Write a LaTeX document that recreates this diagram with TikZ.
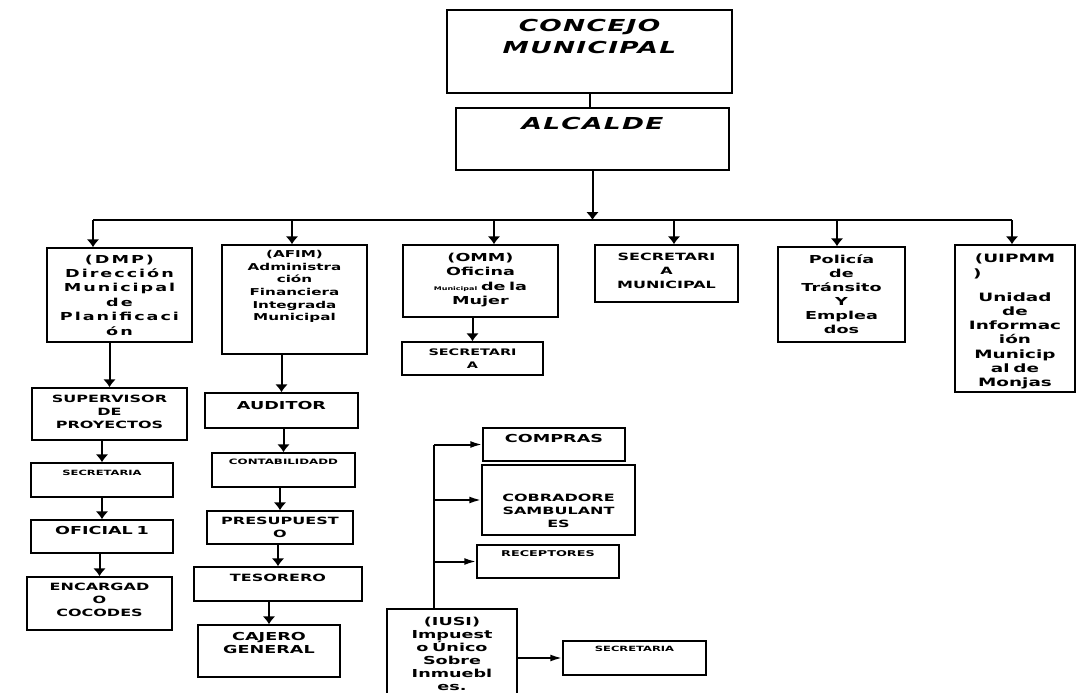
\documentclass[tikz,border=0pt]{standalone}
\usepackage{fontspec}
\newfontfamily\titlefont[FakeStretch=1.6,LetterSpace=8]{DejaVu Sans}
\newfontfamily\orgfont[FakeStretch=1.6,UprightFont=* Bold]{DejaVu Sans}
\newfontfamily\orgwide[FakeStretch=1.6,LetterSpace=18,UprightFont=* Bold]{DejaVu Sans}
\usetikzlibrary{arrows.meta}

\newcommand\fbig{\titlefont\bfseries\itshape\fontsize{16.5}{22}\selectfont}
\newcommand\fmid{\orgfont\fontsize{11}{14.3}\selectfont}
\newcommand\fcap{\orgfont\fontsize{10}{13}\selectfont}
\newcommand\fsmall{\orgfont\fontsize{7.2}{9}\selectfont}

\tikzset{
  box/.style 2 args={draw, line width=1.5pt, minimum width=#1pt, minimum height=#2pt,
    text width=#1pt-6pt, align=center, inner sep=0pt, font=\fmid},
  lift/.style={execute at end node={\par\vspace{#1pt}\hrule height 0pt}},
  link/.style={line width=2pt},
  arr/.style={line width=2pt, -{Latex[length=8pt,width=13pt]}},
  harr/.style={line width=2pt, -{Latex[length=12pt,width=7pt]}}
}

\begin{document}
\begin{tikzpicture}[x=1pt, y=-1pt]
    \useasboundingbox (0,0) rectangle (1080,693);
    \clip (0,0) rectangle (1080,693);

    \node[box={285}{83}, font=\fbig, lift=31] (concejo) at (589.5,51.5) {CONCEJO\\MUNICIPAL};
    \node[box={273}{62}, font=\fbig, lift=32] (alcalde) at (592.5,139) {ALCALDE};

    \coordinate (bus) at (0,220);
    \coordinate (d1) at (93,220);
    \coordinate (d2) at (292,220);
    \coordinate (d3) at (494,220);
    \coordinate (d4) at (674,220);
    \coordinate (d5) at (837,220);
    \coordinate (d6) at (1012,220);

    \node[box={145}{94}, font=\orgwide\fontsize{11}{14.4}\selectfont] (dmp) at (119.5,295) {(DMP)\\Dirección\\Municipal\\de\\Planificaci\\ón};
    \node[box={145}{109}, lift=26, font=\orgfont\fontsize{9.5}{12.7}\selectfont] (afim) at (294.5,299.5) {(AFIM)\\Administra\\ción\\Financiera\\Integrada\\Municipal};
    \node[box={155}{72}, lift=2] (omm) at (480.5,281) {(OMM)\\Oficina\\{\fontsize{5}{6}\selectfont Municipal} de la\\Mujer};
    \node[box={141}{33}, font=\orgfont\fontsize{9}{13}\selectfont] (omsec) at (472.5,358.5) {SECRETARI\\A};
    \node[box={143}{57}, lift=5, font=\orgfont\fontsize{10}{14}\selectfont] (secmun) at (666.5,273.5) {SECRETARI\\A\\MUNICIPAL};
    \node[box={127}{95}, font=\orgfont\fontsize{11}{14}\selectfont] (policia) at (841.5,294.5) {Policía\\de\\Tránsito\\Y\\Emplea\\dos};
    \node[box={120}{147}, lift=-6, font=\orgfont\fontsize{11.5}{14.2}\selectfont] (uipmm) at (1015,318.5) {(UIPMM\\\makebox[84pt][l]{)}\\[10pt]Unidad\\de\\Informac\\ión\\Municip\\al de\\Monjas};

    \node[box={155}{52}, font=\fcap, lift=4] (sup) at (109.5,414) {SUPERVISOR\\DE\\PROYECTOS};
    \node[box={142}{34}, font=\fsmall, lift=14] (sec1) at (102,480) {SECRETARIA};
    \node[box={142}{33}, font=\orgfont\fontsize{11}{13}\selectfont, lift=13] (ofi) at (102,536.5) {OFICIAL 1};
    \node[box={145}{53}, font=\fcap, lift=7] (enc) at (99.5,603.5) {ENCARGAD\\O\\COCODES};

    \node[box={153}{35}, font=\orgfont\fontsize{11}{13}\selectfont, lift=11] (aud) at (281.5,410.5) {AUDITOR};
    \node[box={143}{34}, font=\orgfont\fontsize{7.4}{9}\selectfont, lift=16] (cont) at (283.5,470) {CONTABILIDADD};
    \node[box={146}{33}, font=\fcap] (pres) at (280,527.5) {PRESUPUEST\\O};
    \node[box={168}{34}, font=\fcap, lift=12] (tes) at (278,584) {TESORERO};
    \node[box={142}{52}, font=\orgfont\fontsize{11}{13}\selectfont, lift=16] (caj) at (269,651) {CAJERO\\GENERAL};

    \node[box={142}{33}, font=\orgfont\fontsize{11}{13}\selectfont, lift=13] (comp) at (554,444.5) {COMPRAS};
    \node[box={153}{70}, font=\fcap, lift=-22] (cob) at (558.5,500) {COBRADORE\\SAMBULANT\\ES};
    \node[box={142}{33}, font=\orgfont\fontsize{8}{10}\selectfont, lift=15] (rec) at (548,561.5) {RECEPTORES};
    \node[box={130}{96}, lift=6, font=\orgfont\fontsize{11}{13}\selectfont] (iusi) at (452,657) {(IUSI)\\Impuest\\o Único\\Sobre\\Inmuebl\\es.};
    \node[box={143}{34}, font=\fsmall, lift=18] (isec) at (634.5,658) {SECRETARIA};

    \draw[link] (concejo.south) -- (concejo.south |- alcalde.north);
    \draw[arr] (alcalde.south) -- (alcalde.south |- bus);
    \draw[link] (d1) -- (d6);
    \foreach \d/\n in {d1/dmp, d2/afim, d3/omm, d4/secmun, d5/policia, d6/uipmm}
        \draw[arr] (\d) -- (\d |- \n.north);
    \draw[arr] (omsec.north |- omm.south) -- (omsec.north);
    \foreach \a/\b in {dmp/sup, sup/sec1, sec1/ofi, ofi/enc, afim/aud, aud/cont, cont/pres, pres/tes, tes/caj}
        \draw[arr] (\b.north |- \a.south) -- (\b.north);

    \coordinate (sp) at (434,0);
    \draw[link] (sp |- iusi.north) -- (sp |- comp.west);
    \foreach \n in {comp, cob, rec}
        \draw[harr] (sp |- \n.west) -- (\n.west);
    \draw[harr] (iusi.east |- isec.west) -- (isec.west);
\end{tikzpicture}
\end{document}
